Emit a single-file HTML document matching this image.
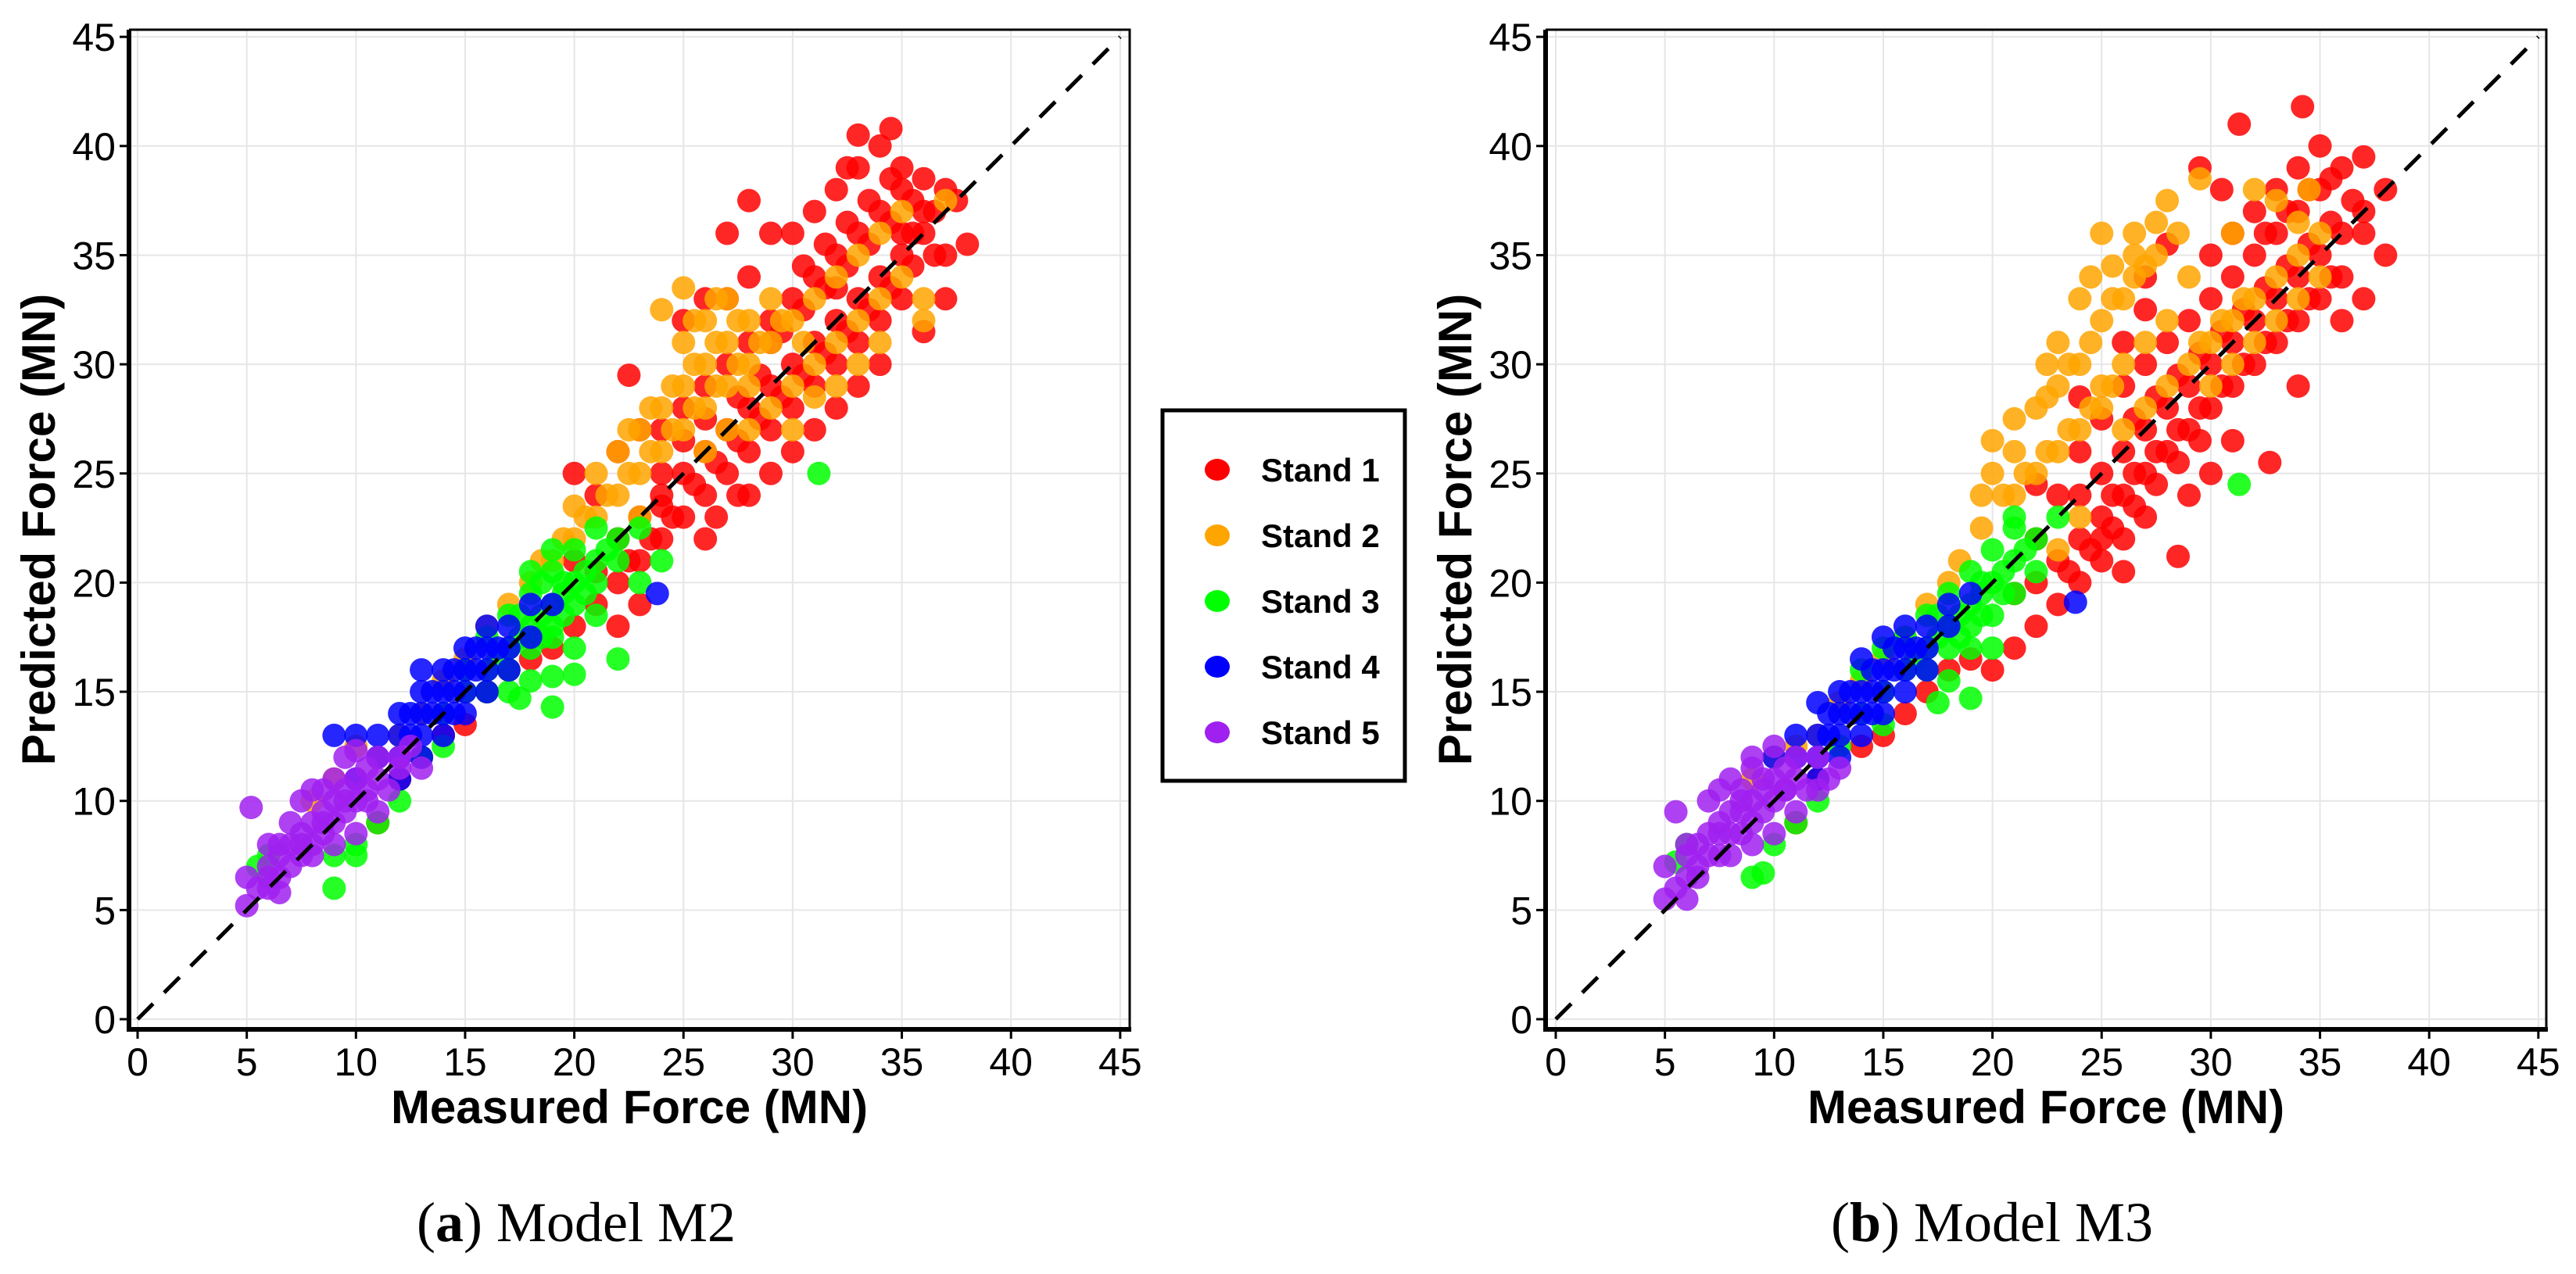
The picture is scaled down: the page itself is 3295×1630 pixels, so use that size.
<!DOCTYPE html>
<html><head><meta charset="utf-8"><style>
html,body{margin:0;padding:0;background:#fff}
svg{display:block}
</style></head><body>
<svg id="chart" width="3295" height="1630" viewBox="0 0 3295 1630" xmlns="http://www.w3.org/2000/svg" font-family="Liberation Sans, sans-serif">
<g id="panelA"></g>
<g id="panelB"></g>
<g>
<rect x="1487" y="525" width="310" height="474" fill="#fff" stroke="#000" stroke-width="5"/>
<g id="legendItems"></g>
</g>
<text x="737" y="1588" text-anchor="middle" font-family="Liberation Serif, serif" font-size="72">(<tspan font-weight="bold">a</tspan>) Model M2</text>
<text x="2548" y="1588" text-anchor="middle" font-family="Liberation Serif, serif" font-size="72">(<tspan font-weight="bold">b</tspan>) Model M3</text>
</svg>
<script>
const ticks = [0,5,10,15,20,25,30,35,40,45];
const tickLabels = ["0","5","10","15","20","25","30","35","40","45"];
const seriesNames = ["Stand 1","Stand 2","Stand 3","Stand 4","Stand 5"];
const seriesColors = ["#ff0000","#ffa500","#00ff00","#0000ff","#a020f0"];

const redA = [[22,20],[23,21],[24,22],[25,23],[26,24],[27,25],[28,26],[29,27],[30,28],[31,29],[32,30],[33,31],[34,32],[35,33],
[22,22],[23,23],[24,24],[25,25],[26,26],[27,27],[28,28],[29,29],[30,30],[31,31],[32,32],[33,33],[34,34],[35,35],[36,36],[37,35],
[24,27],[25,28],[26,29],[27,30],[28,31],[29,32],[30,33],[31,34],[32,35],[33,36],[34,37],[35,38],[36,37],[37,38],
[30,36],[31,37],[32,38],[33,39],[34,40],[35,39],[33,40.5],[34.5,40.8],[36,38.5],[37.5,37.5],[38,35.5],[37,33],[36,31.5],
[21,24],[22,26],[20,25],[23,27],[25,32],[26,33],[27,33],[28,34],[29,36],[27,36],[28,37.5],
[26,22],[28,24],[29,25],[30,26],[31,27],[32,28],[33,29],[34,30],
[19,17],[18,16.5],[17,16],[20,18],[21,19],[16,15],[15,13.5],[14,13],[13,12],[12,11],[11,9],
[22.5,29.5],[22,18],[23,19],[35,36],[32,33.5],[29,31],[26,27.5],[24,25],
[22.5,21],[23.5,22],[24.5,23],[25.5,24.5],[26.5,25.5],[27.5,26.5],[28.5,27.5],[29.5,28.5],[30.5,29.5],[31.5,30.5],[32.5,31.5],[33.5,32.5],[34.5,33.5],[35.5,34.5],[29.5,31.5],[30.5,32.5],[31.5,33.5],[32.5,34.5],[33.5,35.5],[34.5,36.5],[35.5,37.5],[32.5,36.5],[33.5,37.5],[34.5,38.5],[35.5,36],[36.5,35],[30.5,34.5],[31.5,35.5],[32.5,39],[36.5,37],[26.5,23],[27.5,24],[25,26.5],[24,23.5],[20,21],[21,20.5],[28.5,29.5],[27.5,28.5]];
const orangeA = [[18,20],[19,21],[20,22],[20,23.5],[21,23],[21,25],[22,24],[22,26],[23,25],[23,27],[24,26],[24,28],[25,27],[25,29],[25,31],[26,28],[26,30],[26,32],[27,29],[27,31],[27,33],[28,30],[28,32],[29,31],[29,33],[28,27],[29,28],[30,29],[31,30],[32,31],[33,32],[34,33],[35,34],[36,33],[30,32],[31,33],[32,34],[33,35],[34,36],[35,37],[33,30],[34,31],[36,32],[24,32.5],[25,33.5],[27,27],[26,26],[23,23],[17,19],[16,18],[15,16.5],[14,15.5],[13,14],[12,13],[11,12],[10,12.5],[9,11],[8,10],[30,27],[31,28.5],[32,29],[37,37.5],
[21.5,24],[22.5,25],[23.5,26],[24.5,27],[25.5,28],[26.5,29],[27.5,30],[28.5,31],[24.5,29],[25.5,30],[26.5,31],[27.5,32],[25.5,32],[26.5,33],[23.5,28],[22.5,27],[20.5,23],[19.5,22],[18.5,21],[29.5,32],[30.5,31],[28,29]];
const greenA = [[14,14],[15,15],[16,16],[17,17],[18,18],[19,19],[20,20],[21,21],[22,22],[23,22.5],[15,16],[16,17.5],[17,18.5],[18,19.5],[19,20.5],[20,21.5],[21,22.5],[18,17],[19,18],[20,19],[21,20],[22,21],[17,16],[16,15],[19,17.5],[20,17],[21,18.5],[18,20.5],[19,21.5],[17,15],[18,15.5],[19,15.7],[20,15.8],[22,16.5],[19,14.3],[17.5,14.7],[12,10],[11,9],[10,8],[9,7.5],[9,6],[10,7.5],[6,7.5],[5.5,7],[31.2,25],[23,20],[24,21],[13,12],[14,12.5],
[16.5,16.5],[17.5,17.5],[18.5,18.5],[19.5,19.5],[20.5,20.5],[21.5,21.5],[18.5,17.5],[19.5,18.5],[20.5,19.5],[17.5,18.5],[18.5,20],[19.5,20]];
const blueA = [[10,11],[11,12],[12,13],[13,14],[14,15],[15,16],[16,17],[17,18],[18,19],[12,12],[13,13],[14,14],[15,15],[16,16],[17,17],[13,15],[14,16],[12,14],[11,13],[15,17],[16,18],[14,13],[15,14],[16,15],[17,16],[13,16],[10,13],[9,13],[18,17.5],[19,19],[23.8,19.5],[12,11],[13,12],
[12.5,13],[13.5,14],[14.5,15],[15.5,16],[16.5,17],[13.5,15],[14.5,16],[15.5,17],[12.5,14],[14.5,14]];
const purpleA = [[5,5.2],[5.5,6],[6,6.5],[6,7],[6.5,7.5],[7,7],[7,8],[7.5,8.5],[8,8],[8,9],[8.5,9.5],[9,9],[9,10],[9.5,10.5],[10,10],[10,11],[10.5,11.5],[11,11],[11,12],[12,12],[12,11.5],[7,9],[7.5,10],[8,10.5],[9,11],[10,12.3],[8,7.5],[9,8],[10,8.5],[11,9.5],[11.5,10.5],[6,8],[5,6.5],[5.2,9.7],[6,6],[6.5,5.8],[12.5,12.5],[13,11.5],[9.5,12],
[6.5,6.5],[7.5,7.5],[8.5,8.5],[9.5,9.5],[10.5,10.5],[7.5,8],[8.5,9],[9.5,10],[6.5,8],[8.5,10.5],[10.5,10]];

const redB = [[20,16],[21,17],[22,18],[23,19],[24,20],[25,21],[26,22],[27,23],[22,20],[23,21],[24,22],[25,23],[26,24],[27,25],[28,26],[29,27],[30,28],[31,29],[32,30],[33,31],[34,32],[35,33],[36,34],[25,25],[26,26],[27,27],[28,28],[29,29],[30,30],[31,31],[32,32],[33,33],[34,34],[35,35],[36,36],[37,37],[24,26],[25,27.5],[26,29],[27,30],[28,31],[29,32],[30,33],[31,34],[32,35],[33,36],[34,37],[35,38],[36,39],[37,39.5],[30,35],[31,36],[32,37],[33,38],[34,39],[35,40],[34.2,41.8],[31.3,41],[29.5,39],[30.5,38],[38,38],[38,35],[37,33],[36,32],[34,29],[32.7,25.5],[28.5,21.2],[29,24],[30,25],[31,26.5],[27,32.5],[26,31],[24,28.5],[23,24],[21,19.5],[22,22],[19,16.5],[18,16],[17,15],[16,14],[15,13],[14,12.5],[12,11],[11,9],[26,20.5],[24,24],[22,24.5],[27,34],[28,35.5],
[23.5,20.5],[24.5,21.5],[25.5,22.5],[26.5,23.5],[27.5,24.5],[28.5,25.5],[29.5,26.5],[25.5,24],[26.5,25],[27.5,26],[28.5,27],[29.5,28],[30.5,29],[31.5,30],[32.5,31],[33.5,32],[34.5,33],[35.5,34],[30.5,31.5],[31.5,32.5],[32.5,33.5],[33.5,34.5],[34.5,35.5],[35.5,36.5],[32.5,36],[33.5,37],[34.5,38],[35.5,38.5],[36.5,37.5],[37,36],[29.5,30.5],[28.5,29.5],[27.5,28.5],[26.5,27.5],[25,22]];
const orangeB = [[28,37.5],[27.5,36.5],[26.5,35],[25.5,34.5],[25,36],[26,33],[27,34.5],[28.5,36],[24,33],[25,32],[23,31],[22.5,30],[23,29],[24,30],[22,28],[21,27.5],[20,26.5],[21,26],[20,25],[19.5,24],[21,24],[22,25],[23,26],[24,27],[25,28],[26,27],[27,28],[28,29],[29,30],[30,31],[31,32],[32,33],[33,34],[34,35],[35,36],[30,29],[31,30],[32,31],[33,32],[34,33],[35,34],[34,36.5],[33,37.5],[31,36],[29,34],[28,32],[27,31],[26,30],[25,29],[18,20],[17,19],[16,17.5],[15,16.5],[14,15.5],[13,14.5],[12,13],[11,12.5],[10,12],[9,11],[29.5,38.5],[32,38],[34.5,38],[23,21.5],[24,23],
[21.5,25],[22.5,26],[23.5,27],[24.5,28],[25.5,29],[22.5,28.5],[23.5,30],[24.5,31],[25.5,33],[26.5,34],[27.5,35],[26.5,36],[24.5,34],[20.5,24],[19.5,22.5],[18.5,21],[29.5,31],[30.5,32],[31.5,33]];
const greenB = [[14,14],[15,15],[16,16],[17,17],[18,18],[19,19],[20,20],[21,21],[22,22],[23,23],[16,17.5],[17,18.5],[18,19.5],[19,20.5],[20,21.5],[21,22.5],[18,17],[19,18],[20,18.5],[21,19.5],[22,20.5],[19,17],[20,17],[17,16],[18,15.5],[19,14.7],[17.5,14.5],[15,13.5],[13,12.5],[12,10],[11,9],[10,8],[9,6.5],[9.5,6.7],[6,8],[5.5,7.2],[31.3,24.5],[21,23],[14,16],[15,17],
[16.5,16.5],[17.5,17.5],[18.5,18.5],[19.5,19.5],[20.5,20.5],[21.5,21.5],[18.5,17.5],[19.5,18.5],[20.5,19.5],[17.5,18.5],[19.5,20]];
const blueB = [[11,12],[12,13],[13,14],[14,15],[15,16],[16,17],[17,18],[18,19],[12,12],[13,13],[14,14],[15,15],[16,16],[17,17],[18,18],[15,17.5],[16,18],[14,16.5],[13,15],[12,14.5],[14,13],[15,14],[16,15],[17,16],[13,12],[10,12],[12,11],[23.8,19.1],[19,19.5],[11,13],
[12.5,13],[13.5,14],[14.5,15],[15.5,16],[16.5,17],[13.5,15],[14.5,16],[15.5,17],[12.5,14],[14.5,14]];
const purpleB = [[5,5.5],[5.5,6],[6,6.5],[6,7.5],[6.5,7],[7,7.5],[7,8.5],[7.5,9],[8,8.5],[8,9.5],[8.5,10],[9,9],[9,10],[9.5,11],[10,10],[10,11],[10.5,11.5],[11,11],[11,12],[12,12],[12.5,11],[7,10],[7.5,10.5],[8,11],[9,11.5],[10,12.5],[8,7.5],[9,8],[10,8.5],[11,9.5],[11.5,10.5],[6,8],[5,7],[5.5,9.5],[6,5.5],[13,11.5],[12,10.5],[9,12],
[6.5,6.5],[7.5,7.5],[8.5,8.5],[9.5,9.5],[10.5,10.5],[7.5,8.5],[8.5,9.5],[9.5,10.5],[6.5,8],[8.5,10.5],[10.5,10.5]];

const NS = "http://www.w3.org/2000/svg";
function mk(tag, attrs, parent){const e=document.createElementNS(NS,tag);for(const k in attrs)e.setAttribute(k,attrs[k]);parent.appendChild(e);return e;}

function drawPanel(g, x0px, fl, fr, series){
  const y0px=1304, unit=27.93, ft=38, fb=1317;
  const sx=v=>x0px+v*unit, sy=v=>y0px-v*unit;
  const bg=mk('rect',{x:fl,y:ft,width:fr-fl,height:fb-ft,fill:'#fff'},g);
  
  
  ticks.forEach((t,i)=>{
    const gv=mk('line',{x1:sx(t),x2:sx(t),y1:ft,y2:fb,stroke:'#e6e6e6','stroke-width':2},g);
    
    
    const gh=mk('line',{x1:fl,x2:fr,y1:sy(t),y2:sy(t),stroke:'#e6e6e6','stroke-width':2},g);
    
    
  });
  series.forEach((pts,si)=>{
    const sg=mk('g',{fill:seriesColors[si],'fill-opacity':0.85},g);
    
    
    pts.forEach(p=>{
      const c=mk('circle',{cx:sx(p[0]),cy:sy(p[1]),r:15},sg);
      
      
    });
  });
  const dl=mk('line',{x1:sx(0),y1:sy(0),x2:sx(45),y2:sy(45),stroke:'#000','stroke-width':5,'stroke-dasharray':'28 20'},g);
  
  
  const fr1=mk('path',{d:`M${fl} ${ft}H${fr}V${fb}`,fill:'none',stroke:'#000','stroke-width':3},g);
  
  
  const ax=mk('path',{d:`M${fl} ${ft}V${fb}H${fr+2}`,fill:'none',stroke:'#000','stroke-width':6},g);
  
  
  ticks.forEach((t,i)=>{
    const xt=mk('line',{x1:sx(t),x2:sx(t),y1:fb,y2:fb+12,stroke:'#000','stroke-width':3},g);
    
    
    const xl=mk('text',{x:sx(t),y:1376,'font-size':50,'text-anchor':'middle'},g);
    xl.textContent=tickLabels[i];
    
    
    const yt=mk('line',{x1:fl-12,x2:fl,y1:sy(t),y2:sy(t),stroke:'#000','stroke-width':3},g);
    
    
    const yl=mk('text',{x:fl-17,y:sy(t)+18,'font-size':50,'text-anchor':'end'},g);
    yl.textContent=tickLabels[i];
    
    
  });
  const xtitle=mk('text',{x:(fl+fr)/2,y:1437,'font-size':60,'font-weight':'bold','text-anchor':'middle'},g);
  xtitle.textContent='Measured Force (MN)';
  
  
  const yx=fl-95, ymid=(ft+fb)/2;
  const ytitle=mk('text',{x:yx,y:ymid,'font-size':60,'font-weight':'bold','text-anchor':'middle',transform:`rotate(-90 ${yx} ${ymid})`},g);
  ytitle.textContent='Predicted Force (MN)';
  
  
}
drawPanel(document.getElementById('panelA'),176,165,1445,[redA,orangeA,greenA,blueA,purpleA]);
drawPanel(document.getElementById('panelB'),1990,1977,3257,[redB,orangeB,greenB,blueB,purpleB]);

const li=document.getElementById('legendItems');
seriesNames.forEach((n,i)=>{
  const y=601+i*84;
  const d=mk('ellipse',{cx:1557,cy:y,rx:16,ry:14,fill:seriesColors[i]},li);
  
  
  const t=mk('text',{x:1613,y:y+15,'font-size':42,'font-weight':'bold'},li);
  t.textContent=n;
  
  
});
</script>
</body></html>
